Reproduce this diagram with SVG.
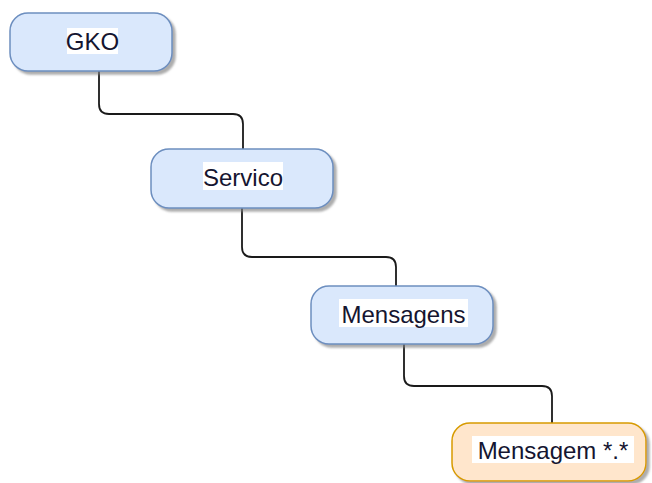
<svg xmlns="http://www.w3.org/2000/svg" width="652" height="483" viewBox="0 0 652 483">
  <defs>
    <filter id="shadow" x="-10%" y="-20%" width="130%" height="150%">
      <feGaussianBlur in="SourceAlpha" stdDeviation="0.8" result="b"/>
      <feOffset in="b" dx="3" dy="3" result="o"/>
      <feFlood flood-color="#808080" flood-opacity="0.65"/>
      <feComposite in2="o" operator="in" result="s"/>
      <feMerge><feMergeNode in="s"/><feMergeNode in="SourceGraphic"/></feMerge>
    </filter>
  </defs>
  <style>
    .blue { fill: #dae8fc; stroke: #6c8ebf; stroke-width: 1.5; filter: url(#shadow); }
    .orange { fill: #ffe6cc; stroke: #d79b00; stroke-width: 1.5; filter: url(#shadow); }
    .lbl { font-family: "Liberation Sans", Arial, sans-serif; font-size: 24px; fill: #151530; text-anchor: middle; dominant-baseline: central; }
    .lblbg { fill: #ffffff; }
    .edge { fill: none; stroke: #1a1a1a; stroke-width: 1.8; }
  </style>
  <rect width="652" height="483" fill="#ffffff"/>
  <g id="connectors">
    <path class="edge" d="M99 71 V104 Q99 114 109 114 H233 Q243 114 243 124 V149"/>
    <path class="edge" d="M242 208 V247 Q242 257 252 257 H386 Q396 257 396 267 V286"/>
    <path class="edge" d="M404 344 V376 Q404 386 414 386 H542 Q552 386 552 396 V423"/>
  </g>
  <g id="node-gko">
    <rect class="blue" x="10" y="13" width="162" height="58" rx="18" ry="18"/>
    <rect class="lblbg" x="67" y="28" width="51" height="26"/>
    <text class="lbl" x="92.5" y="41">GKO</text>
  </g>
  <g id="node-servico">
    <rect class="blue" x="151" y="149" width="182" height="59" rx="18" ry="18"/>
    <rect class="lblbg" x="203" y="162" width="80" height="28"/>
    <text class="lbl" x="243" y="177">Servico</text>
  </g>
  <g id="node-mensagens">
    <rect class="blue" x="311" y="286" width="182" height="58" rx="18" ry="18"/>
    <rect class="lblbg" x="339" y="299" width="129" height="28"/>
    <text class="lbl" x="403.5" y="314">Mensagens</text>
  </g>
  <g id="node-mensagem">
    <rect class="orange" x="452" y="423" width="194" height="58" rx="18" ry="18"/>
    <rect class="lblbg" x="472" y="436" width="162" height="27"/>
    <text class="lbl" x="553" y="450">Mensagem *.*</text>
  </g>
</svg>
